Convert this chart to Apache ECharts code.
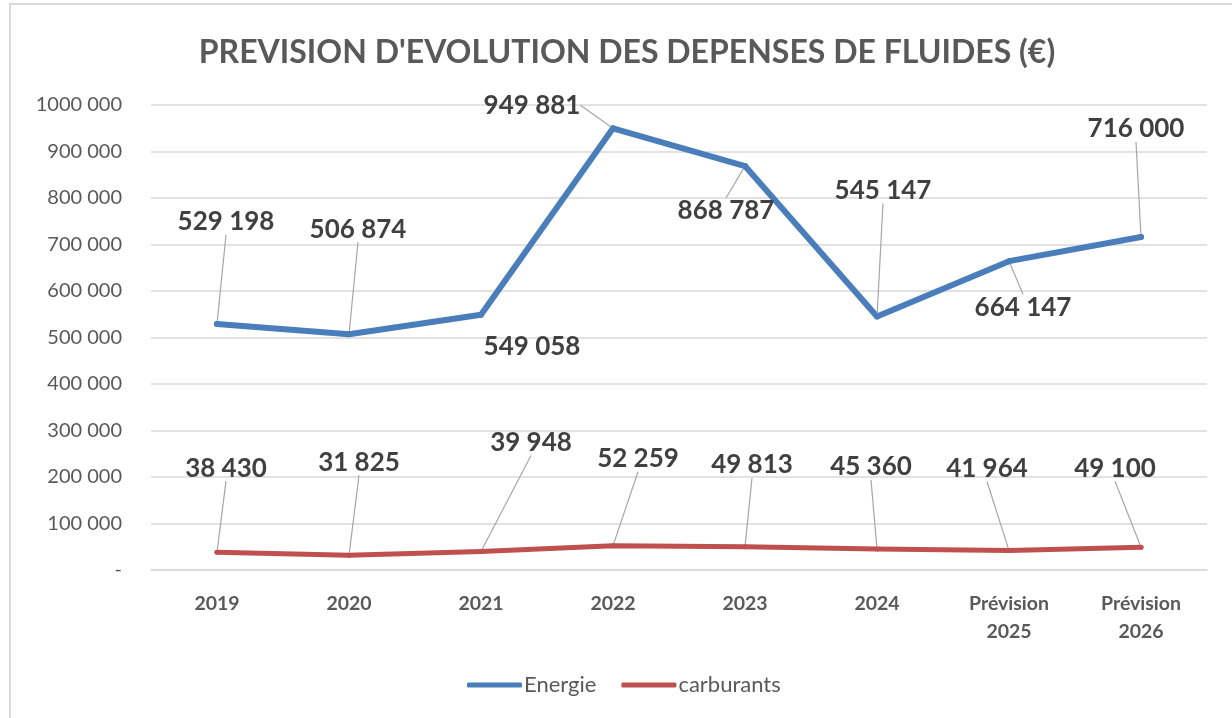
<!DOCTYPE html>
<html>
<head>
<meta charset="utf-8">
<script src="https://cdn.jsdelivr.net/npm/echarts@6/dist/echarts.min.js"></script>
<style>
  html, body { margin: 0; padding: 0; background: #fff; }
  #chart { width: 1232px; height: 718px; }
</style>
</head>
<body>
<div id="chart"></div>
<script>
// categories and values
var categories = ["2019", "2020", "2021", "2022", "2023", "2024", "Prévision\n2025", "Prévision\n2026"];
var energie = [529198, 506874, 549058, 949881, 868787, 545147, 664147, 716000];
var carburants = [38430, 31825, 39948, 52259, 49813, 45360, 41964, 49100];
var yTicks = [0, 100000, 200000, 300000, 400000, 500000, 600000, 700000, 800000, 900000, 1000000];

// where each data label sits relative to its point (px)
var energieOffsets = [[9, -102], [9, -105], [51, 32], [-81, -23], [-19, 45], [6, -126], [14, 46], [-5, -108]];
var carbOffsets = [[9, -84], [10, -93], [50, -109], [25, -87], [7, -82], [-6, -82], [-22, -82], [-26, -79]];

var FONT = "Lato, 'Open Sans', sans-serif";

// 949881 -> "949 881", 1000000 -> "1000 000"
function fmt(v) {
  if (v === 0) return "-";
  var rest = String(v % 1000);
  while (rest.length < 3) rest = "0" + rest;
  return Math.floor(v / 1000) + " " + rest;
}

function layoutWith(offsets) {
  return function (p) {
    var o = offsets[p.dataIndex];
    return {
      x: p.rect.x + p.rect.width / 2 + o[0],
      y: p.rect.y + p.rect.height / 2 + o[1],
      align: "center",
      verticalAlign: "middle"
    };
  };
}

var chart = echarts.init(document.getElementById("chart"));

var dataLabel = {
  show: true,
  formatter: function (p) { return fmt(p.value); },
  fontFamily: FONT,
  fontWeight: "bold",
  fontSize: 26,
  color: "#404040"
};
var leader = { show: true, lineStyle: { color: "#a6a6a6", width: 1.2 } };

var option = {
  animation: false,
  textStyle: { fontFamily: FONT },
  graphic: [{
    type: "rect",
    shape: { x: 10, y: 4, width: 1300, height: 800 },
    style: { fill: "none", stroke: "#d9d9d9", lineWidth: 2 },
    silent: true
  }],
  title: {
    text: "PREVISION D'EVOLUTION DES DEPENSES DE FLUIDES (€)",
    left: 622,
    top: 32,
    textAlign: "center",
    textStyle: { fontFamily: FONT, fontSize: 32, fontWeight: "bold", color: "#595959" }
  },
  legend: {
    bottom: 17,
    left: 462,
    icon: "roundRect",
    itemWidth: 55,
    itemHeight: 5,
    itemGap: 25,
    textStyle: { fontFamily: FONT, fontSize: 22, color: "#595959", padding: [0, 0, 0, -3] },
    data: ["Energie", "carburants"]
  },
  grid: { left: 151, right: 25, top: 105, bottom: 148 },
  xAxis: {
    type: "category",
    data: categories,
    boundaryGap: true,
    axisLine: { lineStyle: { color: "#d9d9d9", width: 1.5 } },
    axisTick: { show: false },
    axisLabel: {
      margin: 20,
      fontFamily: FONT,
      fontSize: 19.5,
      fontWeight: "bold",
      color: "#595959",
      lineHeight: 28
    }
  },
  yAxis: {
    type: "value",
    min: yTicks[0],
    max: yTicks[yTicks.length - 1],
    interval: yTicks[1] - yTicks[0],
    axisLine: { show: false },
    axisTick: { show: false },
    splitLine: { lineStyle: { color: "#d9d9d9", width: 1.5 } },
    axisLabel: {
      margin: 29,
      fontFamily: FONT,
      fontSize: 20,
      color: "#595959",
      formatter: fmt
    }
  },
  series: [
    {
      name: "Energie",
      type: "line",
      data: energie.map(function (v, i) {
        // the 549 058 label has no leader line in the original
        return i === 2 ? { value: v, labelLine: { show: false } } : v;
      }),
      symbol: "circle",
      symbolSize: 6,
      color: "#4a7ebb",
      lineStyle: { width: 6, color: "#4a7ebb", cap: "round", join: "round" },
      itemStyle: { color: "#4a7ebb" },
      label: dataLabel,
      labelLine: leader,
      labelLayout: layoutWith(energieOffsets),
      z: 3
    },
    {
      name: "carburants",
      type: "line",
      data: carburants,
      symbol: "circle",
      symbolSize: 5,
      color: "#c0504d",
      lineStyle: { width: 5, color: "#c0504d", cap: "round", join: "round" },
      itemStyle: { color: "#c0504d" },
      label: dataLabel,
      labelLine: leader,
      labelLayout: layoutWith(carbOffsets),
      z: 2
    }
  ]
};

chart.setOption(option);
window.addEventListener("resize", function () {
  chart.resize();
});
</script>
</body>
</html>
